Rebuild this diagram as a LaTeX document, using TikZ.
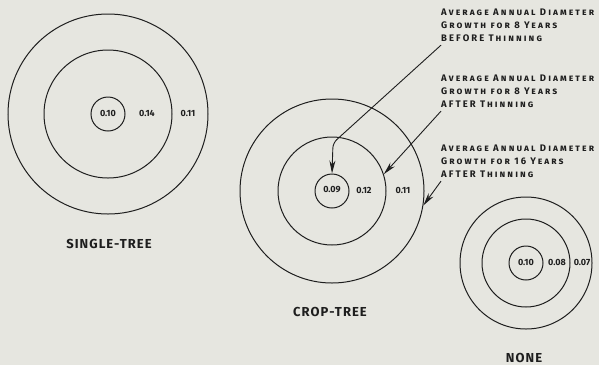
\documentclass[tikz,border=0pt]{standalone}
\usepackage{fontspec}
\setmainfont{Fira Sans}
\usetikzlibrary{arrows.meta}
\definecolor{paper}{RGB}{230,230,224}
\definecolor{ink}{RGB}{30,30,30}

\begin{document}
\begin{tikzpicture}[x=1pt,y=-1pt,
  ring/.style={circle,draw=ink,line width=1pt,inner sep=0pt},
  val/.style={font=\fontsize{9}{10}\selectfont\bfseries,text=ink,inner sep=0pt},
  title/.style={font=\fontsize{13}{15}\selectfont\bfseries\addfontfeatures{LetterSpace=8},text=ink,inner sep=0pt},
  note/.style={font=\fontsize{9.5}{13}\selectfont\bfseries\scshape\addfontfeatures{LetterSpace=22},text=ink,align=left,anchor=north west,inner sep=0pt},
  pointer/.style={draw=ink,line width=0.9pt,-{Stealth[length=13pt,width=6pt]}}]
\fill[paper] (0,0) rectangle (599,365);
\useasboundingbox (0,0) rectangle (599,365);

% single-tree
\node[ring,minimum size=200pt] (sout) at (108,114) {};
\node[ring,minimum size=128pt] (smid) at (108,114) {};
\node[ring,minimum size=34pt] (sin) at (108,114) {};
\node[val] (sv1) at (108,113) {0.10};
\node[val] (sv2) at (147,113) {0.14};
\node[val] (sv3) at (188,113) {0.11};
\node[title] (stitle) at (109,244) {SINGLE-TREE};

% crop-tree
\node[ring,minimum size=184pt] (cout) at (332,191) {};
\node[ring,minimum size=108pt] (cmid) at (332,191) {};
\node[ring,minimum size=34pt] (cin) at (332,191) {};
\node[val] (cv1) at (332,190) {0.09};
\node[val] (cv2) at (364,190) {0.12};
\node[val] (cv3) at (403,190) {0.11};
\node[title] (ctitle) at (330,312) {CROP-TREE};

% none
\node[ring,minimum size=132pt] (nout) at (526,263) {};
\node[ring,minimum size=88pt] (nmid) at (526,263) {};
\node[ring,minimum size=34pt] (nin) at (526,263) {};
\node[val] (nv1) at (526,262) {0.10};
\node[val] (nv2) at (557,262) {0.08};
\node[val] (nv3) at (582,262) {0.07};
\node[title] (ntitle) at (524,358) {NONE};

% notes
\node[note] (before) at (441,9) {Average Annual Diameter\\Growth for 8 Years\\BEFORE Thinning};
\node[note] (after8) at (441,75) {Average Annual Diameter\\Growth for 8 Years\\AFTER Thinning};
\node[note] (after16) at (441,145) {Average Annual Diameter\\Growth for 16 Years\\AFTER Thinning};

\coordinate (bend) at (333,143);
\draw[pointer,rounded corners=5pt] ([yshift=-3pt]before.south west) -- (bend) -- (cin.north);
\draw[pointer] ([yshift=-3pt]after8.south west) -- (cmid.18);
\draw[pointer] ([yshift=-3pt]after16.south west) -- (cout.-9);
\end{tikzpicture}
\end{document}
